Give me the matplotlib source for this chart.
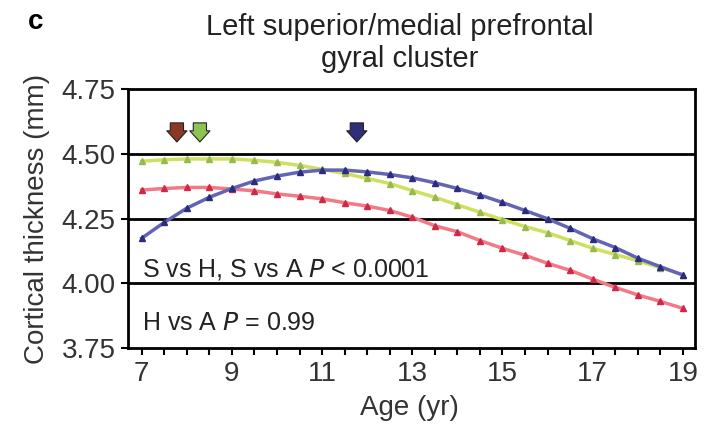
import matplotlib.pyplot as plt
import numpy as np

plt.rcParams['font.family'] = ['Liberation Sans', 'DejaVu Sans']

# ages (yr) where the model curves are sampled
ages = np.arange(7, 19.01, 0.5)

# cortical thickness (mm) per group
red_vals = [4.360, 4.366, 4.370, 4.370, 4.364, 4.357, 4.345, 4.336, 4.326, 4.311,
            4.298, 4.281, 4.255, 4.222, 4.199, 4.165, 4.135, 4.108, 4.077, 4.050,
            4.016, 3.984, 3.955, 3.930, 3.903]
green_vals = [4.471, 4.477, 4.480, 4.480, 4.480, 4.475, 4.467, 4.455, 4.440, 4.424,
              4.405, 4.385, 4.358, 4.332, 4.303, 4.274, 4.246, 4.219, 4.195, 4.165,
              4.135, 4.111, 4.087, 4.060, 4.033]
blue_vals = [4.174, 4.235, 4.290, 4.332, 4.366, 4.395, 4.414, 4.429, 4.437, 4.437,
             4.430, 4.420, 4.407, 4.388, 4.366, 4.341, 4.312, 4.281, 4.249, 4.212,
             4.172, 4.138, 4.097, 4.064, 4.032]

# peak ages marked by arrows
peak_ages = [7.78, 8.29, 11.77]
arrow_colors = ['#8a3a22', '#8cc454', '#303078']

line_colors = ['#f27a86', '#cfe060', '#6464b4']
marker_colors = ['#d02848', '#98b850', '#2c2c7c']

fig = plt.figure(figsize=(7.08, 4.32), dpi=100)
ax = fig.add_axes([0.1808, 0.1944, 0.8008, 0.5995])

for vals, lc, mc in zip([red_vals, green_vals, blue_vals], line_colors, marker_colors):
    ax.plot(ages, vals, color=lc, lw=2.5, marker='^', ms=4,
            mfc=mc, mec=mc, zorder=3)

# horizontal reference lines
for yv in [4.0, 4.25, 4.5]:
    ax.axhline(yv, color='black', lw=2, zorder=2)

for xa, c in zip(peak_ages, arrow_colors):
    ax.annotate('', xy=(xa, 4.535), xytext=(xa, 4.63),
                arrowprops=dict(arrowstyle='simple,head_width=1.45,head_length=0.8,tail_width=0.95',
                                fc=c, ec='#222222', lw=0.8))

ax.text(7.0, 4.055, 'S vs H, S vs A $\\mathit{P}$ < 0.0001', fontsize=18,
        va='center', ha='left', color='#222222')
ax.text(7.0, 3.846, 'H vs A $\\mathit{P}$ = 0.99', fontsize=18,
        va='center', ha='left', color='#222222')

ax.set_xlim(6.696, 19.268)
ax.set_ylim(3.75, 4.75)
ax.set_xticks(np.arange(7, 20, 2))
ax.set_xticks(np.arange(7, 19.01, 0.5), minor=True)
ax.set_yticks([3.75, 4.0, 4.25, 4.5, 4.75])
ax.set_yticklabels(['3.75', '4.00', '4.25', '4.50', '4.75'])
ax.tick_params(axis='both', which='both', direction='out', length=5, width=1.5,
               labelsize=20, labelcolor='#333333')
ax.tick_params(axis='x', pad=4)
ax.tick_params(axis='y', pad=4)
for s in ax.spines.values():
    s.set_linewidth(2)

ax.set_xlabel('Age (yr)', fontsize=20, color='#333333')
ax.xaxis.set_label_coords(0.497, -0.18)
ax.set_ylabel('Cortical thickness (mm)', fontsize=20, color='#333333')
ax.yaxis.set_label_coords(-0.138, 0.5)

fig.text(0.565, 0.90, 'Left superior/medial prefrontal\ngyral cluster', fontsize=21,
         ha='center', va='center', linespacing=1.2, color='#222222')
fig.text(0.05, 0.95, 'c', fontsize=20, fontweight='bold', ha='center', va='center')

fig.savefig('out.png', dpi=100)
